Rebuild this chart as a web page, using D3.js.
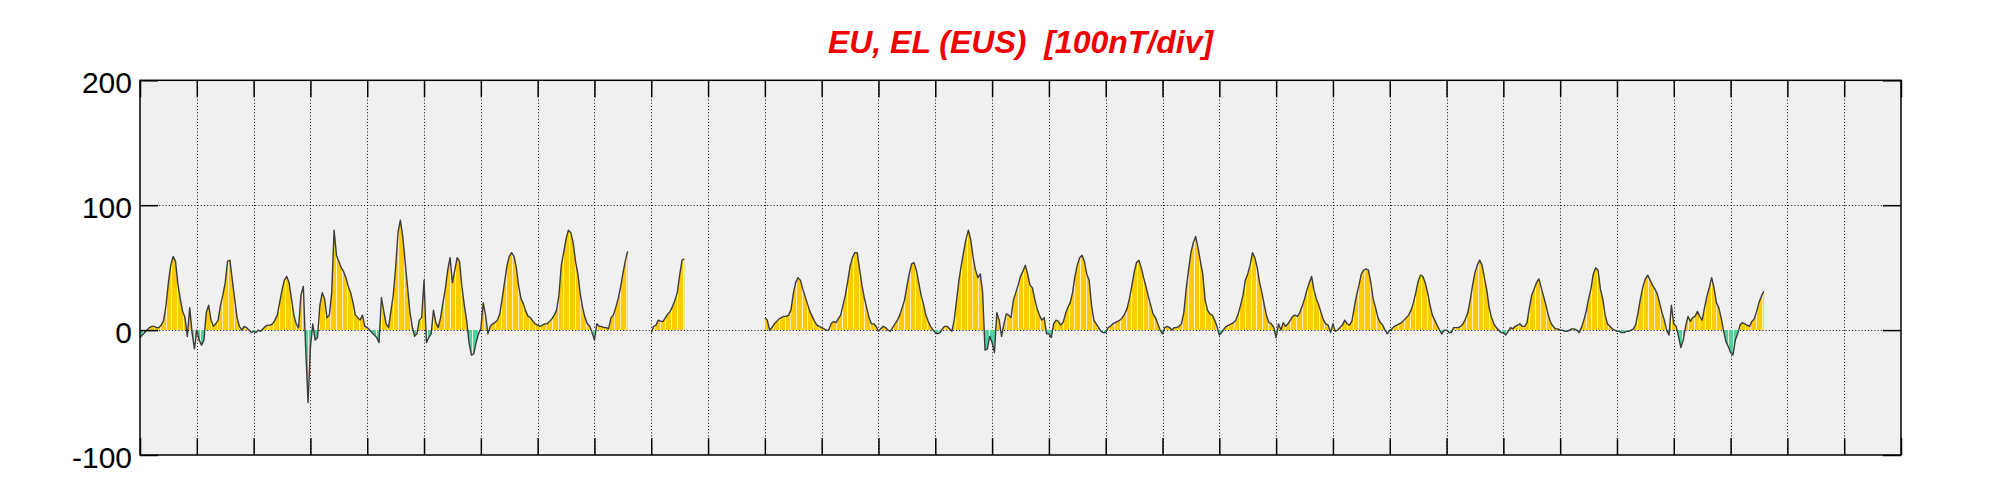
<!DOCTYPE html>
<html>
<head>
<meta charset="utf-8">
<script src="https://cdn.jsdelivr.net/npm/d3@7"></script>
<style>
  html, body { margin: 0; padding: 0; background: #ffffff; }
  svg { display: block; }
</style>
</head>
<body>
<div id="chart"></div>
<script>
// ---------------- DATA (hourly values, nT) ----------------
const titleText = "EU, EL (EUS)  [100nT/div]";
const yTickValues = [-100, 0, 100, 200];
const yTickLabels = ["-100", "0", "100", "200"];
const dayTicks = d3.range(0, 32);          // day boundaries 0..31
const samplesPerDay = 24;

// segment 1 : day 0.0 -> 8.58
const seg1Start = 0;
const seg1Values = [
  -6,-4,-2,0,2,3,3,2,2,4,8,20,38,52,59,55,37,25,15,10,-5,18,-2,-15,
  0,-8,-12,-8,14,20,8,3,5,8,20,28,38,55,56,40,25,10,3,0,3,2,0,-2,
  -1,-2,0,-1,1,3,4,4,5,8,12,22,32,40,43,38,25,12,5,2,28,35,-15,-58,
  -14,5,-8,-6,20,30,25,10,12,30,80,60,55,50,47,42,35,30,22,12,10,8,12,3,
  2,0,-2,-4,-6,-10,26,15,5,2,15,28,50,78,88,75,55,35,15,3,-5,-3,8,10,
  40,-10,-6,-3,16,6,2,10,22,33,48,58,38,48,58,55,35,20,8,-10,-20,-19,-10,-3,
  1,22,12,-3,3,5,6,8,13,25,38,51,59,62,59,50,35,25,21,15,11,10,7,5,
  4,3,4,5,5,7,9,12,16,28,52,62,73,80,78,70,55,45,29,18,10,5,3,-2,
  -8,5,3,3,2,2,1,10,12,18,25,34,45,55,63
];

// segment 2 : day 9.0 -> 9.58
const seg2Start = 9;
const seg2Values = [-2,3,4,8,7,7,10,13,15,19,24,30,44,56,57];

// segment 3 : day 11.0 -> 28.58
const seg3Start = 11;
const seg3Values = [
  10,8,0,2,5,7,9,10,11,11,12,16,29,38,42,40,33,27,21,15,11,7,4,3,
  2,1,0,0,5,7,6,9,12,20,28,39,51,58,62,62,49,36,26,18,10,5,5,3,
  -1,1,3,2,0,-1,2,5,8,12,18,24,35,45,53,54,48,38,28,21,12,7,3,0,
  -2,-3,-2,1,3,3,1,-1,8,24,40,52,63,73,80,72,58,48,42,45,30,-16,-15,-5,
  -10,-18,14,8,-5,5,13,12,10,24,30,36,43,47,52,45,36,34,25,17,12,8,10,-3,
  -3,-6,5,8,7,4,6,13,18,22,30,43,52,58,60,55,45,40,20,8,5,2,-1,-2,
  -2,2,3,5,6,7,8,10,13,17,25,35,46,54,56,50,42,35,27,20,13,10,5,0,
  -3,2,3,2,0,2,2,3,5,14,33,48,62,70,75,66,55,45,24,16,13,12,8,3,
  -4,-2,1,3,4,5,6,8,13,20,28,40,45,52,62,58,50,38,30,20,11,6,5,2,
  -6,5,0,6,3,5,8,11,12,11,14,19,25,32,38,43,32,25,20,14,8,5,4,-2,
  5,-1,0,2,4,8,5,4,7,18,28,36,45,48,49,48,38,25,18,10,6,4,0,-3,
  0,1,3,4,5,6,8,10,12,16,22,30,39,44,43,38,30,20,12,8,4,0,-3,0,
  0,-2,-2,2,2,2,3,5,9,14,24,36,46,52,56,52,42,32,18,10,5,2,0,-2,
  -2,-4,-1,2,1,3,4,5,3,3,6,18,28,33,38,41,34,27,20,12,6,3,1,1,
  0,0,-1,-1,0,1,1,0,-2,2,8,15,25,33,45,50,48,33,25,12,5,3,1,0,
  -1,-1,-2,-2,-1,-1,0,1,5,15,26,35,41,44,40,36,33,29,22,14,8,0,-4,20,
  5,3,-5,-14,-8,3,11,7,10,11,15,11,8,18,27,34,42,34,22,18,10,0,-9,-13,
  -18,-20,-8,-3,4,6,5,4,3,7,9,15,22,27,31
];

// ---------------- LAYOUT ----------------
const W = 2001, H = 500;
const plot = { left: 140, right: 1901, top: 80.3, bottom: 455 };

const x = d3.scaleLinear().domain([0, 31]).range([plot.left, plot.right]);
const y = d3.scaleLinear().domain([-100, 200]).range([plot.bottom, plot.top]);

const svg = d3.select("#chart").append("svg")
  .attr("width", W).attr("height", H);

const defs = svg.append("defs");

// background
svg.append("rect")
  .attr("x", plot.left).attr("y", plot.top)
  .attr("width", plot.right - plot.left).attr("height", plot.bottom - plot.top)
  .attr("fill", "#f0f0f0");

// dotted grid
const grid = svg.append("g").attr("stroke", "#000").attr("stroke-width", 1)
  .attr("stroke-dasharray", "1,2.2");
grid.selectAll("line.v").data(dayTicks.slice(1, -1)).join("line")
  .attr("class", "v")
  .attr("x1", d => Math.round(x(d)) + 0.5).attr("x2", d => Math.round(x(d)) + 0.5)
  .attr("y1", plot.top).attr("y2", plot.bottom);
grid.selectAll("line.h").data([0, 100]).join("line")
  .attr("class", "h")
  .attr("x1", plot.left).attr("x2", plot.right)
  .attr("y1", d => Math.round(y(d)) + 0.5).attr("y2", d => Math.round(y(d)) + 0.5);

// ---------------- SERIES ----------------
const segments = [
  { start: seg1Start, values: seg1Values },
  { start: seg2Start, values: seg2Values },
  { start: seg3Start, values: seg3Values }
].map(s => s.values.map((v, i) => ({ t: s.start + i / samplesPerDay, v })));

const area = d3.area().x(d => x(d.t)).y0(y(0)).y1(d => y(d.v));
const line = d3.line().x(d => x(d.t)).y(d => y(d.v));

// clip regions above / below zero
defs.append("clipPath").attr("id", "above").append("rect")
  .attr("x", plot.left).attr("y", plot.top)
  .attr("width", plot.right - plot.left).attr("height", y(0) - plot.top);
defs.append("clipPath").attr("id", "below").append("rect")
  .attr("x", plot.left).attr("y", y(0))
  .attr("width", plot.right - plot.left).attr("height", plot.bottom - y(0));

// clip to the filled area (for stripes)
const areaClip = defs.append("clipPath").attr("id", "areaClip");
segments.forEach(seg => areaClip.append("path").attr("d", area(seg)));

const fills = svg.append("g");
segments.forEach(seg => {
  fills.append("path").attr("d", area(seg)).attr("fill", "#ffcc00")
    .attr("clip-path", "url(#above)");
  fills.append("path").attr("d", area(seg)).attr("fill", "#4fd3a3")
    .attr("clip-path", "url(#below)");
});

// thin light stripes inside the fill (every 0.1 day)
svg.append("g").attr("clip-path", "url(#areaClip)")
  .selectAll("line").data(d3.range(0.05, 31, 0.1)).join("line")
  .attr("x1", d => Math.round(x(d)) + 0.5).attr("x2", d => Math.round(x(d)) + 0.5)
  .attr("y1", plot.top).attr("y2", plot.bottom)
  .attr("stroke", "#fff6d8").attr("stroke-width", 1).attr("opacity", 0.85);

// data line
const lines = svg.append("g");
segments.forEach(seg => {
  lines.append("path").attr("d", line(seg))
    .attr("fill", "none").attr("stroke", "#3c3c3c")
    .attr("stroke-width", 1.4).attr("stroke-linejoin", "round");
});

// ---------------- AXES ----------------
const axisStyle = g => {
  g.select(".domain").remove();
  g.selectAll(".tick line").attr("stroke", "#000").attr("stroke-width", 1.5);
};

svg.append("g").attr("transform", `translate(${plot.left},0)`)
  .call(d3.axisLeft(y).tickValues(yTickValues).tickSize(-18).tickPadding(8)
    .tickFormat(d => yTickLabels[yTickValues.indexOf(d)]))
  .call(axisStyle)
  .call(g => g.selectAll("text")
    .attr("font-family", "'Liberation Sans', Arial, sans-serif")
    .attr("font-size", 30).attr("fill", "#000").attr("dy", "0.42em"));

svg.append("g").attr("transform", `translate(${plot.right},0)`)
  .call(d3.axisRight(y).tickValues(yTickValues).tickSize(-18).tickFormat(""))
  .call(axisStyle);

svg.append("g").attr("transform", `translate(0,${plot.top})`)
  .call(d3.axisTop(x).tickValues(dayTicks).tickSize(-17).tickFormat(""))
  .call(axisStyle);

svg.append("g").attr("transform", `translate(0,${plot.bottom})`)
  .call(d3.axisBottom(x).tickValues(dayTicks).tickSize(-17).tickFormat(""))
  .call(axisStyle);

// frame
svg.append("rect")
  .attr("x", plot.left).attr("y", plot.top)
  .attr("width", plot.right - plot.left).attr("height", plot.bottom - plot.top)
  .attr("fill", "none").attr("stroke", "#000").attr("stroke-width", 1.5);

// title (keep the double space)
svg.append("text")
  .attr("x", (plot.left + plot.right) / 2).attr("y", 53)
  .attr("text-anchor", "middle")
  .attr("xml:space", "preserve")
  .style("white-space", "pre")
  .attr("font-family", "'Liberation Sans', Arial, sans-serif")
  .attr("font-size", 32).attr("font-weight", "bold").attr("font-style", "italic")
  .attr("fill", "#f00000")
  .text(titleText);
</script>
</body>
</html>
